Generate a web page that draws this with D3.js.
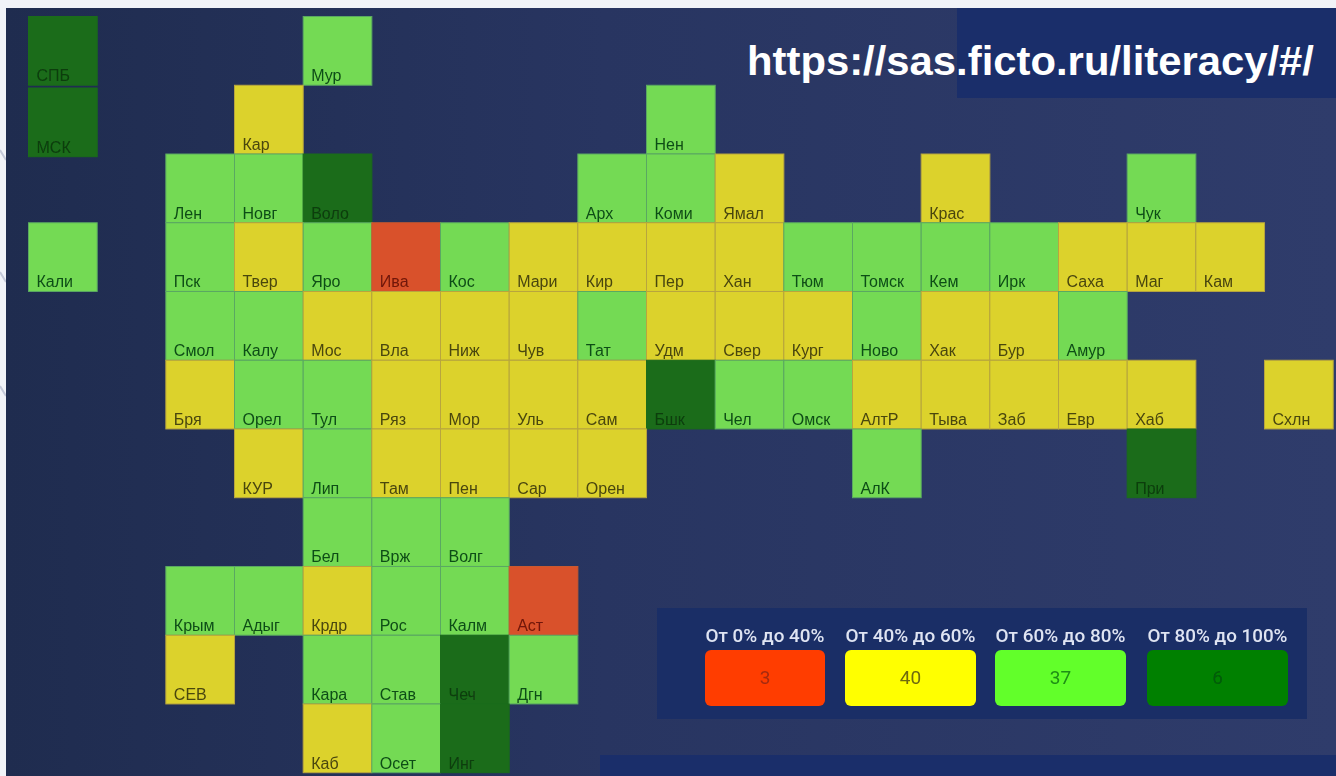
<!DOCTYPE html>
<html><head><meta charset="utf-8">
<style>html,body{margin:0;padding:0;background:#fff;overflow:hidden}svg{display:block}</style>
<script src="https://cdn.jsdelivr.net/npm/d3@7"></script></head>
<body><svg id="c" width="1336" height="776"></svg>
<script>
const regions=["СПБ","Мур","МСК","Кар","Нен","Лен","Новг","Воло","Арх","Коми","Ямал","Крас","Чук",
"Кали","Пск","Твер","Яро","Ива","Кос","Мари","Кир","Пер","Хан","Тюм","Томск","Кем","Ирк","Саха","Маг","Кам",
"Смол","Калу","Мос","Вла","Ниж","Чув","Тат","Удм","Свер","Кург","Ново","Хак","Бур","Амур",
"Бря","Орел","Тул","Ряз","Мор","Уль","Сам","Бшк","Чел","Омск","АлтР","Тыва","Заб","Евр","Хаб","Схлн",
"КУР","Лип","Там","Пен","Сар","Орен","АлК","При",
"Бел","Врж","Волг",
"Крым","Адыг","Крдр","Рос","Калм","Аст",
"СЕВ","Кара","Став","Чеч","Дгн",
"Каб","Осет","Инг"];
const gridCols=[0,4,0,3,9,2,3,4,8,9,10,13,16,
0,2,3,4,5,6,7,8,9,10,11,12,13,14,15,16,17,
2,3,4,5,6,7,8,9,10,11,12,13,14,15,
2,3,4,5,6,7,8,9,10,11,12,13,14,15,16,18,
3,4,5,6,7,8,12,16,
4,5,6,
2,3,4,5,6,7,
2,4,5,6,7,
4,5,6];
const gridRows=[0,0,1.04,1,1,2,2,2,2,2,2,2,2,
3,3,3,3,3,3,3,3,3,3,3,3,3,3,3,3,3,
4,4,4,4,4,4,4,4,4,4,4,4,4,4,
5,5,5,5,5,5,5,5,5,5,5,5,5,5,5,5,
6,6,6,6,6,6,6,6,
7,7,7,
8,8,8,8,8,8,
9,9,9,9,9,
10,10,10];
const bands=[3,2,3,1,2,2,2,3,2,2,1,1,2,
2,2,1,2,0,2,1,1,1,1,2,2,2,2,1,1,1,
2,2,1,1,1,1,2,1,1,1,2,1,1,2,
1,2,2,1,1,1,1,3,2,2,1,1,1,1,1,1,
1,2,1,1,1,1,2,3,
2,2,2,
2,2,1,2,2,0,
1,2,2,3,2,
1,2,3];
const legendLabels=["От 0% до 40%","От 40% до 60%","От 60% до 80%","От 80% до 100%"];
const legendCounts=[3,40,37,6];
const title="https://sas.ficto.ru/literacy/#/";

const W=1336,H=776;
const svg=d3.select("#c");
const defs=svg.append("defs");
const g=defs.append("linearGradient").attr("id","bg").attr("x1",0).attr("x2",1).attr("y1",0).attr("y2",0);
g.append("stop").attr("offset",0).attr("stop-color","#1f2c4f");
g.append("stop").attr("offset",.45).attr("stop-color","#283561");
g.append("stop").attr("offset",1).attr("stop-color","#2f3c6b");
const blur=defs.append("filter").attr("id","soft").attr("x","-5%").attr("y","-20%").attr("width","110%").attr("height","140%");
blur.append("feGaussianBlur").attr("stdDeviation",0.4);

svg.append("rect").attr("width",W).attr("height",H).attr("fill","#f1f3f8");
svg.append("g").selectAll("line").data([[0,150,6,160],[0,272,6,282],[0,386,6,396]]).join("line")
 .attr("x1",d=>d[0]).attr("y1",d=>d[1]).attr("x2",d=>d[2]).attr("y2",d=>d[3])
 .attr("stroke","#c4c9d8").attr("stroke-width",2);
svg.append("rect").attr("x",6).attr("y",8).attr("width",W-6).attr("height",H-8).attr("fill","url(#bg)");
svg.append("rect").attr("x",957).attr("y",8).attr("width",W-957).attr("height",90).attr("fill","#1a2e6a");
svg.append("rect").attr("x",600).attr("y",755).attr("width",W-600).attr("height",21).attr("fill","#1a2e6a");

const x=d3.scaleLinear().domain([0,18]).range([28.5,1264.5]);
const y=d3.scaleLinear().domain([0,10]).range([16.5,704]);
const size=68;
const fill=d3.scaleOrdinal().domain([0,1,2,3]).range(["#d9512b","#dcd22c","#74da54","#1b6c1a"]);
const edge=d3.scaleOrdinal().domain([0,1,2,3]).range(["#c9592f","#b8a53e","#5aa862","#1b6c1a"]);
const ink=d3.scaleOrdinal().domain([0,1,2,3]).range(["#6f1508","#4a4610","#0e4d16","#0b3c0c"]);

const cells=svg.append("g").selectAll("g").data(regions.map((name,i)=>({name,c:gridCols[i],r:gridRows[i],b:bands[i]}))).join("g");
cells.append("rect").attr("x",d=>x(d.c)).attr("y",d=>y(d.r)).attr("width",size+.7).attr("height",size+.7)
 .attr("fill",d=>fill(d.b)).attr("stroke",d=>edge(d.b)).attr("stroke-width",1);
cells.append("text").attr("x",d=>x(d.c)+8).attr("y",d=>y(d.r)+64.5)
 .attr("font-family","Liberation Sans, sans-serif").attr("font-size",16).attr("fill",d=>ink(d.b))
 .attr("filter","url(#soft)").text(d=>d.name);

svg.append("text").attr("x",1314).attr("y",75).attr("text-anchor","end")
 .attr("font-family","Liberation Sans, sans-serif").attr("font-weight",700).attr("font-size",40)
 .attr("textLength",567).attr("lengthAdjust","spacingAndGlyphs")
 .attr("fill","#fff").text(title);

svg.append("rect").attr("x",657).attr("y",608).attr("width",650).attr("height",111).attr("fill","#1a2e66");
const legX=[705,845,995,1147], legW=[120,131,131,141];
const legFill=d3.scaleOrdinal().domain([0,1,2,3]).range(["#ff3d00","#ffff00","#62ff2a","#008000"]);
const legInk=d3.scaleOrdinal().domain([0,1,2,3]).range(["#a52a10","#6f6a10","#1e8f14","#045a08"]);
const leg=svg.append("g").selectAll("g").data(legendLabels.map((l,i)=>({l,i,n:legendCounts[i]}))).join("g");
leg.append("text").attr("x",d=>legX[d.i]+legW[d.i]/2).attr("y",642).attr("text-anchor","middle")
 .attr("font-family","Roboto, sans-serif").attr("font-weight",500).attr("font-size",18.5).attr("fill","#dfe4f2")
 .attr("textLength",d=>legW[d.i]-1).attr("lengthAdjust","spacingAndGlyphs").attr("filter","url(#soft)").text(d=>d.l);
leg.append("rect").attr("x",d=>legX[d.i]).attr("y",650).attr("width",d=>legW[d.i]).attr("height",56).attr("rx",6)
 .attr("fill",d=>legFill(d.i));
leg.append("text").attr("x",d=>legX[d.i]+legW[d.i]/2).attr("y",684).attr("text-anchor","middle")
 .attr("font-family","Roboto, sans-serif").attr("font-size",19).attr("fill",d=>legInk(d.i)).attr("filter","url(#soft)").text(d=>d.n);
</script></body></html>
